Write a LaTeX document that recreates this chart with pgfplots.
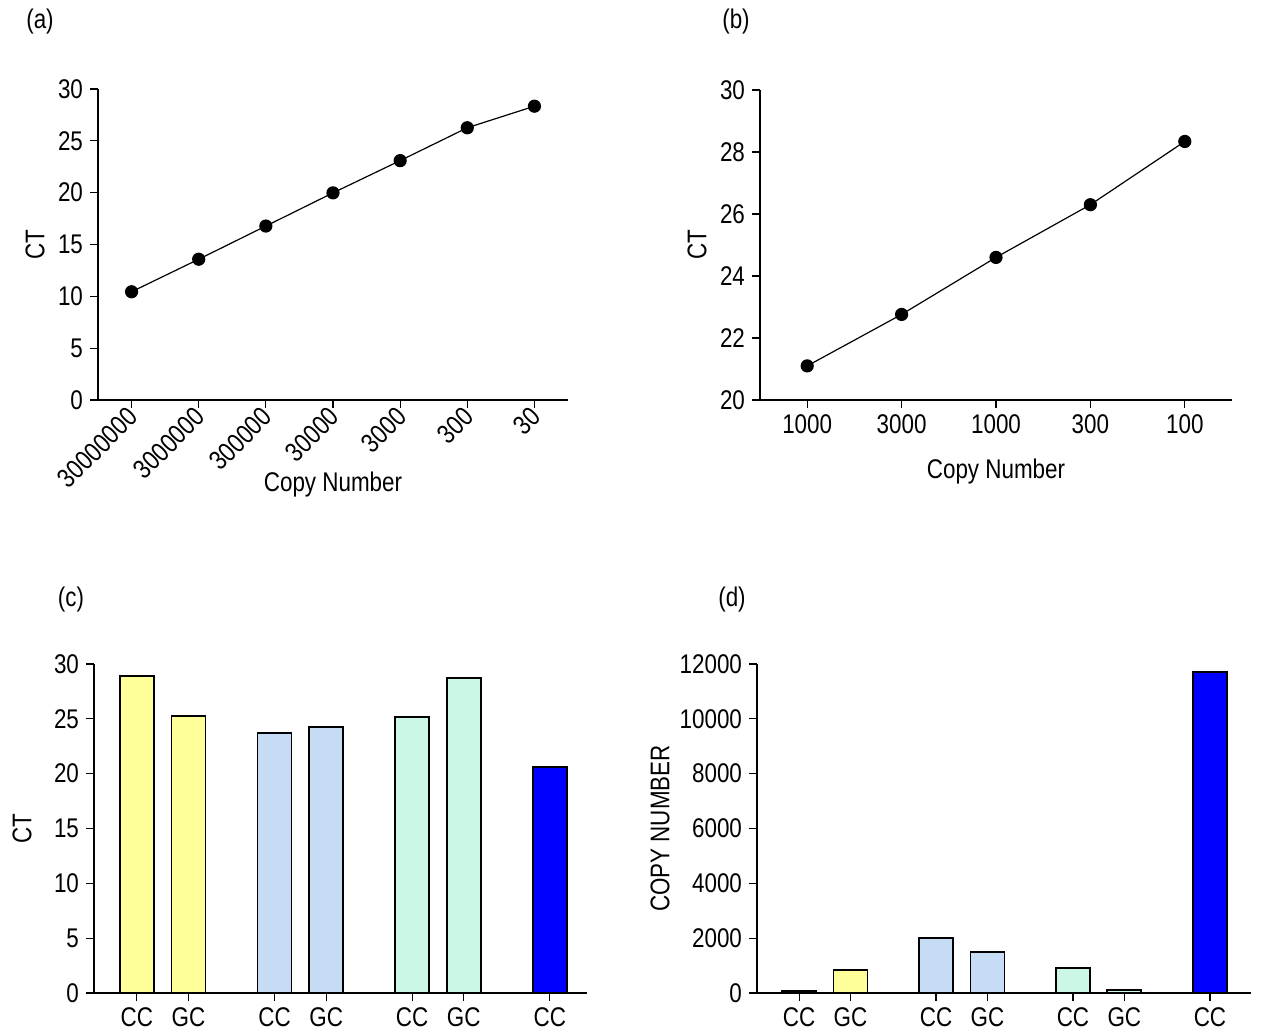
\documentclass[border=0pt]{standalone}
\usepackage{fontspec}
\setmainfont[FakeStretch=0.83]{Liberation Sans}
\usepackage{pgfplots}
\pgfplotsset{compat=1.18}

\definecolor{cyel}{RGB}{255,255,153}
\definecolor{cblu}{RGB}{198,220,245}
\definecolor{cmin}{RGB}{204,247,230}
\definecolor{cdeep}{RGB}{0,0,255}

\newcommand{\labfont}{\fontsize{13.5}{15}\selectfont}
\pgfplotsset{
 myaxis/.style={
  scale only axis, axis lines=left, axis line style={-, line width=0.6pt},
  tick align=outside, major tick length=4pt, tick style={line width=0.6pt, black},
  tick label style={font=\fontsize{13.5}{15}\selectfont},
  /pgf/number format/assume math mode=true,
  /pgf/number format/1000 sep={},
  scaled y ticks=false,
  clip=false,
  anchor=south west,
 },
 ylab/.style={every axis y label/.style={at={(rel axis cs:0,0.5)}, anchor=center, xshift=-#1, rotate=90, font=\labfont}},
 xlab/.style={every axis x label/.style={at={(rel axis cs:0.5,0)}, anchor=center, yshift=-#1, font=\labfont}},
}

\begin{document}
\begin{tikzpicture}
\node[font=\labfont] at (20pt,506pt) {(a)};
\node[font=\labfont] at (368pt,506pt) {(b)};
\node[font=\labfont] at (35.5pt,217pt) {(c)};
\node[font=\labfont] at (366pt,217pt) {(d)};

% (a)
\begin{axis}[myaxis, at={(49pt,317pt)}, width=235pt, height=155.5pt,
  xmin=-0.5, xmax=6.5, ymin=0, ymax=30, ytick={0,5,...,30},
  xtick={0,...,6}, xticklabels={30000000,3000000,300000,30000,3000,300,30},
  x tick label style={rotate=45, anchor=east, inner sep=1pt, yshift=-2pt},
  ylab=31.5pt, xlab=42.5pt,
  xlabel={Copy Number}, ylabel={CT}]
\addplot[black, line width=0.6pt, mark=*, mark size=3pt] coordinates {
 (0,10.44) (1,13.58) (2,16.78) (3,19.98) (4,23.09) (5,26.26) (6,28.34)};
\end{axis}

% (b)
\begin{axis}[myaxis, at={(380pt,317pt)}, width=236pt, height=155pt,
  xmin=-0.5, xmax=4.5, ymin=20, ymax=30, ytick={20,22,...,30},
  xtick={0,...,4}, xticklabels={1000,3000,1000,300,100},
  ylab=31.5pt, xlab=36pt,
  xlabel={Copy Number}, ylabel={CT}]
\addplot[black, line width=0.6pt, mark=*, mark size=3pt] coordinates {
 (0,21.10) (1,22.76) (2,24.60) (3,26.30) (4,28.34)};
\end{axis}

% (c)
\begin{axis}[myaxis, at={(47pt,20.5pt)}, width=246.5pt, height=164.5pt,
  xmin=-0.83, xmax=8.72, ymin=0, ymax=30, ytick={0,5,...,30},
  xtick={0,1,2.667,3.667,5.333,6.333,8}, xticklabels={CC,GC,CC,GC,CC,GC,CC},
  ylab=36pt, ylabel={CT}]
\addplot[ybar, bar width=17pt, bar shift=0pt, fill=cyel, draw=black, line width=0.9pt] coordinates {(0,28.94) (1,25.23)};
\addplot[ybar, bar width=17pt, bar shift=0pt, fill=cblu, draw=black, line width=0.9pt] coordinates {(2.667,23.72) (3.667,24.26)};
\addplot[ybar, bar width=17pt, bar shift=0pt, fill=cmin, draw=black, line width=0.9pt] coordinates {(5.333,25.14) (6.333,28.73)};
\addplot[ybar, bar width=17pt, bar shift=0pt, fill=cdeep, draw=black, line width=0.9pt] coordinates {(8,20.59)};
\end{axis}

% (d)
\begin{axis}[myaxis, at={(378.5pt,20.5pt)}, width=247pt, height=164.5pt,
  xmin=-0.82, xmax=8.8, ymin=0, ymax=12000, ytick={0,2000,...,12000},
  xtick={0,1,2.667,3.667,5.333,6.333,8}, xticklabels={CC,GC,CC,GC,CC,GC,CC},
  ylab=48.5pt, ylabel={COPY NUMBER}]
\addplot[ybar, bar width=17pt, bar shift=0pt, fill=cyel, draw=black, line width=0.9pt] coordinates {(0,85) (1,838)};
\addplot[ybar, bar width=17pt, bar shift=0pt, fill=cblu, draw=black, line width=0.9pt] coordinates {(2.667,1992) (3.667,1494)};
\addplot[ybar, bar width=17pt, bar shift=0pt, fill=cmin, draw=black, line width=0.9pt] coordinates {(5.333,899) (6.333,97)};
\addplot[ybar, bar width=17pt, bar shift=0pt, fill=cdeep, draw=black, line width=0.9pt] coordinates {(8,11697)};
\end{axis}

\pgfresetboundingbox
\path (0,0) rectangle (632pt,517pt);
\end{tikzpicture}
\end{document}
